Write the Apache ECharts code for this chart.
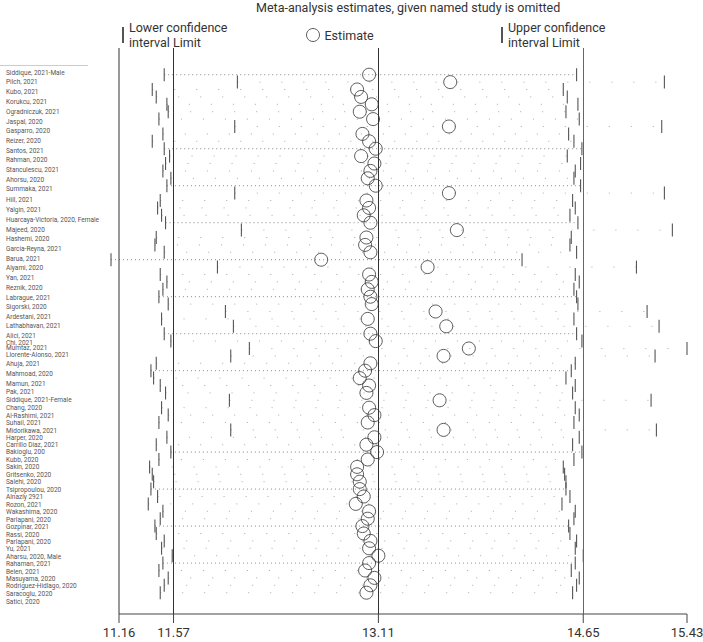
<!DOCTYPE html>
<html><head><meta charset="utf-8">
<script src="https://cdn.jsdelivr.net/npm/echarts@6/dist/echarts.min.js"></script>
<style>html,body{margin:0;padding:0;background:#fff}#c{width:703px;height:642px}</style>
</head><body><div id="c"></div>
<script>
// Study labels (top to bottom) and their row positions on the plot's row axis
const studies = ["Siddique, 2021-Male","Pilch, 2021","Kubo, 2021","Korukcu, 2021","Ogradniczuk, 2021","Jaspal, 2020","Gasparro, 2020","Reizer, 2020","Santos, 2021","Rahman, 2020","Stanculescu, 2021","Ahorsu, 2020","Summaka, 2021","Hill, 2021","Yalgin, 2021","Huarcaya-Victoria, 2020, Female","Majeed, 2020","Hashemi, 2020","Garcia-Reyna, 2021","Barua, 2021","Alyami, 2020","Yan, 2021","Reznik, 2020","Labrague, 2021","Sigorski, 2020","Ardestani, 2021","Lathabhavan, 2021","Alici, 2021","Chi, 2021","Mumtaz, 2021","Llorente-Alonso, 2021","Ahuja, 2021","Mahmoad, 2020","Mamun, 2021","Pak, 2021","Siddique, 2021-Female","Chang, 2020","Al-Rashimi, 2021","Suhail, 2021","Midorikawa, 2021","Harper, 2020","Carrillo Diaz, 2021","Bakioglu, 200","Kubb, 2020","Sakin, 2020","Gritsenko, 2020","Salehi, 2020","Tsipropoulou, 2020","Alnazly 2921","Rozon, 2021","Wakashima, 2020","Parlapani, 2020","Gozpinar, 2021","Rassi, 2020","Parlapani, 2020","Yu, 2021","Aharsu, 2020, Male","Rahaman, 2021","Belen, 2021","Masuyama, 2020","Rodriguez-Hidlago, 2020","Saracoglu, 2020","Satici, 2020"];
const studyPos = [0.73,2.03,3.38,4.69,6.04,7.35,8.65,9.96,11.27,12.57,13.88,15.19,16.49,17.97,19.28,20.64,21.95,23.24,24.55,25.86,27.16,28.51,29.82,31.14,32.43,33.74,34.96,36.27,37.3,37.95,38.84,40.14,41.45,42.76,43.88,44.96,46.04,47.08,48.11,49.11,50.09,51.08,51.95,53.07,54.01,55.09,56.04,57.12,58.07,59.11,60.09,61.14,62.12,63.16,64.14,65.09,66.14,67.09,68.16,69.15,70.03,71.15,72.2];

// Plotted rows (top to bottom): estimate, lower and upper confidence limits
const rowEst = [13.04,13.65,12.95,12.98,13.06,12.97,13.07,13.64,12.99,13.04,13.09,12.98,13.08,13.05,13.03,13.09,13.64,13.02,13.04,13.00,13.05,13.70,13.02,13.01,13.05,12.68,13.48,13.04,13.06,13.03,13.05,13.06,13.54,13.03,13.62,13.05,13.09,13.79,13.60,13.05,13.01,12.97,13.04,13.02,13.57,13.04,13.08,13.03,13.60,13.08,13.02,13.10,13.03,12.95,12.95,12.97,12.97,13.00,12.94,13.04,13.03,12.99,13.00,13.05,13.04,13.11,13.04,13.01,13.08,13.05,13.02];
const rowLower = [11.50,12.05,11.41,11.44,11.52,11.53,11.46,12.03,11.49,11.41,11.50,11.54,11.51,11.49,11.55,11.52,12.03,11.47,11.45,11.48,11.51,12.08,11.44,11.43,11.50,11.10,11.90,11.47,11.52,11.49,11.46,11.53,11.96,11.48,12.02,11.50,11.55,12.14,12.00,11.44,11.40,11.42,11.47,11.51,11.99,11.48,11.53,11.46,12.00,11.52,11.44,11.55,11.46,11.39,11.41,11.42,11.40,11.45,11.38,11.49,11.47,11.43,11.44,11.50,11.48,11.56,11.49,11.46,11.53,11.50,11.47];
const rowUpper = [14.60,15.26,14.50,14.53,14.61,14.52,14.62,15.24,14.54,14.58,14.64,14.53,14.63,14.59,14.58,14.63,15.26,14.57,14.59,14.55,14.61,15.32,14.56,14.55,14.60,14.19,15.05,14.59,14.62,14.58,14.60,14.61,15.13,14.58,15.22,14.60,14.64,15.43,15.19,14.59,14.56,14.52,14.59,14.57,15.16,14.59,14.62,14.58,15.20,14.62,14.57,14.64,14.58,14.50,14.51,14.52,14.52,14.55,14.49,14.59,14.58,14.54,14.55,14.60,14.59,14.65,14.59,14.56,14.62,14.60,14.57];

const xTicks = [11.16, 11.57, 13.11, 14.65, 15.43];
const refLines = [11.57, 13.11, 14.65];

const titleText = "Meta-analysis estimates, given named study is omitted";
const LOWER = "Lower confidence\ninterval Limit";
const EST = "Estimate";
const UPPER = "Upper confidence\ninterval Limit";

const FONT = "Roboto, 'Liberation Sans', sans-serif";
const solidRows = new Set([1, 11, 16, 21, 26, 31, 36, 41, 52, 57, 62, 67]);
const X_MIN = 11.16, X_MAX = 15.43, Y_MIN = -2.61, Y_MAX = 73.88;

const rows = rowEst.map((v, i) => i + 1);
const tickItem = (params, api) => {
  const p = api.coord([api.value(0), api.value(1)]);
  return { type: 'line', shape: { x1: p[0], y1: p[1] - 6.5, x2: p[0], y2: p[1] + 6.5 },
           style: { stroke: '#555', lineWidth: 1.1 } };
};

const chart = echarts.init(document.getElementById('c'), null, { renderer: 'svg' });
chart.setOption({
  animation: false,
  backgroundColor: '#fff',
  title: { text: titleText, left: 256, top: 1, padding: 0,
    textStyle: { fontFamily: FONT, fontSize: 12.5, fontWeight: 'normal', color: '#333' } },
  legend: [
    { left: 117, top: 15, data: [{ name: LOWER, icon: 'rect', itemStyle: { color: '#555' } }],
      itemWidth: 2, itemHeight: 16, selectedMode: false,
      textStyle: { fontFamily: FONT, fontSize: 12.5, color: '#333', lineHeight: 15 } },
    { left: 301, top: 23, data: [{ name: EST, icon: 'circle', itemStyle: { color: 'rgba(0,0,0,0)', borderColor: '#333', borderWidth: 1 } }],
      itemWidth: 13, itemHeight: 13, selectedMode: false,
      textStyle: { fontFamily: FONT, fontSize: 12.5, color: '#333' } },
    { left: 496, top: 15, data: [{ name: UPPER, icon: 'rect', itemStyle: { color: '#555' } }],
      itemWidth: 2, itemHeight: 16, selectedMode: false,
      textStyle: { fontFamily: FONT, fontSize: 12.5, color: '#333', lineHeight: 15 } }
  ],
  grid: { left: 119, top: 48, width: 568, height: 566, containLabel: false, outerBoundsMode: 'none' },
  xAxis: {
    type: 'value', min: X_MIN, max: X_MAX,
    axisLine: { show: false },
    axisTick: { show: false },
    axisLabel: { customValues: xTicks, formatter: v => v.toFixed(2), margin: 12,
      fontFamily: FONT, fontSize: 13, color: '#333' },
    splitLine: { show: false }
  },
  yAxis: {
    type: 'value', min: Y_MIN, max: Y_MAX, inverse: true,
    axisLine: { show: false },
    axisTick: { show: false },
    axisLabel: { customValues: studyPos, align: 'left', margin: 113,
      formatter: v => { const i = studyPos.indexOf(v); return i >= 0 ? studies[i] : ''; },
      fontFamily: FONT, fontSize: 6.5, color: '#555' },
    splitLine: { show: false }
  },
  graphic: [
    { type: 'line', shape: { x1: 0, y1: 65.5, x2: 88, y2: 65.5 }, style: { stroke: '#ccc', lineWidth: 1 } }
  ],
  series: [
    { type: 'custom', name: 'ci', clip: false, silent: true,
      data: rows.map((r, i) => [rowLower[i], rowUpper[i], r]),
      encode: { x: [0, 1], y: 2 },
      renderItem: (params, api) => {
        const r = api.value(2);
        const a = api.coord([api.value(0), r]);
        const b = api.coord([api.value(1), r]);
        const solid = solidRows.has(r);
        return { type: 'line', shape: { x1: a[0], y1: a[1], x2: b[0], y2: b[1] },
          style: { stroke: solid ? '#888' : '#aaa', lineWidth: 1, lineDash: solid ? [1, 3] : [1, 21] } };
      } },
    { type: 'custom', name: LOWER, clip: false,
      data: rows.map((r, i) => [rowLower[i], r]), encode: { x: 0, y: 1 }, renderItem: tickItem },
    { type: 'custom', name: UPPER, clip: false,
      data: rows.map((r, i) => [rowUpper[i], r]), encode: { x: 0, y: 1 }, renderItem: tickItem },
    // axis frame: left and bottom lines plus downward ticks at the labelled values
    { type: 'custom', name: 'axes', clip: false, silent: true,
      data: xTicks.map(v => [v]), encode: { x: 0 },
      renderItem: (params, api) => {
        const p = api.coord([api.value(0), Y_MAX]);
        const children = [{ type: 'line', shape: { x1: p[0], y1: p[1], x2: p[0], y2: p[1] + 9 },
          style: { stroke: '#444', lineWidth: 1 } }];
        if (params.dataIndex === 0) {
          const tl = api.coord([X_MIN, Y_MIN]), br = api.coord([X_MAX, Y_MAX]);
          children.push({ type: 'line', shape: { x1: tl[0], y1: tl[1], x2: tl[0], y2: br[1] }, style: { stroke: '#333', lineWidth: 1 } });
          children.push({ type: 'line', shape: { x1: tl[0], y1: br[1], x2: br[0], y2: br[1] }, style: { stroke: '#444', lineWidth: 1 } });
        }
        return { type: 'group', children };
      } },
    { type: 'scatter', name: EST, symbol: 'circle', symbolSize: 13,
      data: rows.map((r, i) => [rowEst[i], r]),
      itemStyle: { color: 'rgba(0,0,0,0)', borderColor: '#333', borderWidth: 1 },
      markLine: { silent: true, symbol: 'none', label: { show: false },
        data: refLines.map((v, k) => ({ xAxis: v, lineStyle: { color: k === 2 ? '#666' : '#333', width: 1, type: 'solid' } })) } }
  ]
});
</script></body></html>
